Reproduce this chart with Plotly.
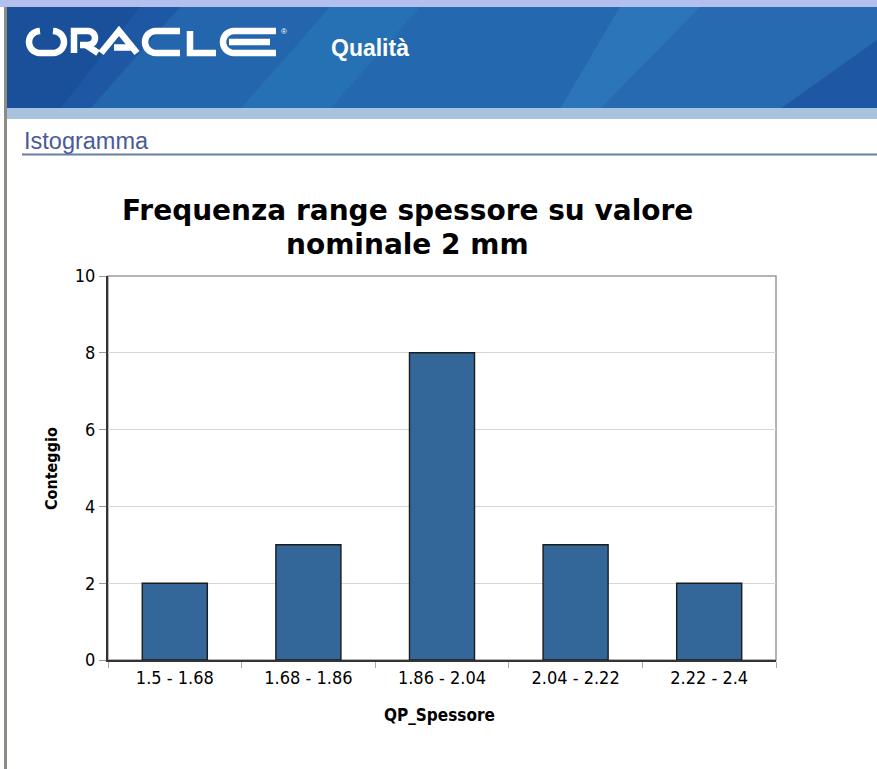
import math
import plotly.graph_objects as go

# data
categories = ["1.5 - 1.68", "1.68 - 1.86", "1.86 - 2.04", "2.04 - 2.22", "2.22 - 2.4"]
counts = [2, 3, 8, 3, 2]
y_ticks = [0, 2, 4, 6, 8, 10]

W, H = 877, 769
L, R, T, B = 108, 776, 276, 660  # plot area in page pixels


def px(x):
    return (x - L) / (R - L)


def py(y):
    return (B - y) / (B - T)


def rect(x0, y0, x1, y1, color, opacity=1):
    return dict(type="rect", xref="paper", yref="paper", layer="below",
                x0=px(x0), x1=px(x1), y0=py(y0), y1=py(y1),
                fillcolor=color, opacity=opacity, line=dict(width=0))


def poly(points, color, opacity=1):
    d = "M " + " L ".join(f"{px(x):.5f},{py(y):.5f}" for x, y in points) + " Z"
    return dict(type="path", xref="paper", yref="paper", layer="below", path=d,
                fillcolor=color, opacity=opacity, line=dict(width=0))


def stroke(points, width=6.5, color="white"):
    d = "M " + " L ".join(f"{px(x):.5f},{py(y):.5f}" for x, y in points)
    return dict(type="path", xref="paper", yref="paper", layer="above", path=d,
                line=dict(color=color, width=width))


def arc(cx, cy, r, a0, a1, n=14):
    # angles in degrees, screen coords (y down)
    return [(cx + r * math.cos(math.radians(a0 + (a1 - a0) * i / n)),
             cy - r * math.sin(math.radians(a0 + (a1 - a0) * i / n))) for i in range(n + 1)]


fig = go.Figure(go.Bar(
    x=categories, y=counts,
    marker=dict(color="#336699", line=dict(color="#1c1c1c", width=1.4)),
    hoverinfo="x+y"
))

# page chrome: banner, strips, border
shapes = [
    rect(0, 0, W, 7, "#b3bfec"),
    rect(7, 7, W, 109, "#1e58a4"),
    poly([(180, 7), (420, 7), (330, 109), (90, 109)], "#2b78ba", 0.45),
    poly([(330, 7), (700, 7), (600, 109), (240, 109)], "#2a7ab9", 0.5),
    poly([(620, 7), (877, 7), (877, 40), (780, 109), (560, 109)], "#3b8dcc", 0.35),
    poly([(7, 7), (140, 7), (60, 109), (7, 109)], "#174a92", 0.55),
    rect(7, 108, W, 119, "#a8c3de"),
    rect(4, 7, 7, H, "#8c8c84"),
    dict(type="line", xref="paper", yref="paper",
         x0=px(22), x1=px(W), y0=py(154.5), y1=py(154.5),
         line=dict(color="#6a7ea3", width=2)),
    # plot frame
    dict(type="rect", xref="paper", yref="paper", layer="below",
         x0=0, x1=1, y0=0, y1=1, line=dict(color="#9a9a9a", width=1.5)),
]

# ORACLE logotype drawn as strokes
cy, r = 42, 11
top, bot = cy - r, cy + r
logo = [
    # O
    arc(40, cy, r, 90, 270) + arc(53, cy, r, 270, 450),
    # R
    [(74, bot), (74, top), (88, top)] + arc(88, top + 7, 7, 90, -90) + [(80, top + 14)],
    [(86, top + 14), (98, bot)],
    # A
    [(101, bot), (119, top), (137, bot)],
    [(114, 47.5), (131, 47.5)],
    # C
    [(180, top)] + arc(156, cy, r, 90, 270) + [(180, bot)],
    # L
    [(190, top), (190, bot), (216, bot)],
    # E
    [(276, top)] + arc(234, cy, r, 90, 270) + [(276, bot)],
    [(229, cy), (270, cy)],
]
for pts in logo:
    shapes.append(stroke(pts))

annotations = [
    dict(text="®", x=px(284), y=py(32), xref="paper", yref="paper",
         xanchor="center", yanchor="middle", showarrow=False,
         font=dict(family="Liberation Sans", size=8, color="white")),
    dict(text="<b>Qualità</b>", x=px(331), y=py(48), xref="paper", yref="paper",
         xanchor="left", yanchor="middle", showarrow=False, xshift=-2,
         font=dict(family="Liberation Sans", size=23, color="white")),
    dict(text="Istogramma", x=px(24), y=py(141), xref="paper", yref="paper",
         xanchor="left", yanchor="middle", showarrow=False, xshift=-2,
         font=dict(family="Liberation Sans", size=23.5, color="#4a5b97")),
    # chart title, two lines
    dict(text="<b>Frequenza range spessore su valore</b>", x=px(407), y=py(210),
         xref="paper", yref="paper", xanchor="center", yanchor="middle", showarrow=False,
         font=dict(family="DejaVu Sans", size=28, color="black")),
    dict(text="<b>nominale 2 mm</b>", x=px(407), y=py(244),
         xref="paper", yref="paper", xanchor="center", yanchor="middle", showarrow=False,
         font=dict(family="DejaVu Sans", size=28, color="black")),
    # axis titles
    dict(text="<b>QP_Spessore</b>", x=px(439), y=py(715),
         xref="paper", yref="paper", xanchor="center", yanchor="middle", showarrow=False,
         font=dict(family="DejaVu Sans Condensed", size=17, color="black")),
    dict(text="<b>Conteggio</b>", x=px(51), y=py(468), textangle=-90,
         xref="paper", yref="paper", xanchor="center", yanchor="middle", showarrow=False,
         font=dict(family="DejaVu Sans Condensed", size=16, color="black")),
]

fig.update_layout(
    width=W, height=H,
    margin=dict(l=L, r=W - R, t=T, b=H - B, autoexpand=False),
    paper_bgcolor="white", plot_bgcolor="white",
    bargap=0.513,
    showlegend=False,
    shapes=shapes,
    annotations=annotations,
    xaxis=dict(
        showline=True, linecolor="#333333", linewidth=2,
        ticks="outside", tickson="boundaries", ticklen=6, tickcolor="#aaaaaa",
        tickfont=dict(family="DejaVu Sans Condensed", size=18, color="black"),
        showgrid=False, fixedrange=True,
    ),
    yaxis=dict(
        range=[0, 10], tickvals=y_ticks,
        showline=True, linecolor="#333333", linewidth=2,
        ticks="outside", ticklen=7, tickcolor="#999999",
        tickfont=dict(family="DejaVu Sans Condensed", size=18, color="black"),
        showgrid=True, gridcolor="#d6d6d6", gridwidth=1.3,
        zeroline=False, fixedrange=True,
    ),
)

fig.write_html("out.html", config={"displayModeBar": False},
               post_script="document.body.style.margin='0';")
